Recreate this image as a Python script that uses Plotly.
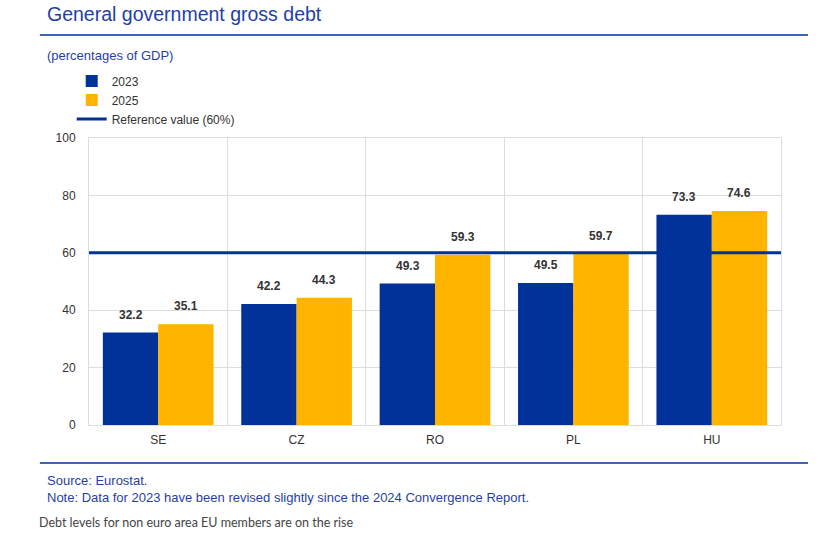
import plotly.graph_objects as go

# data
countries = ["SE", "CZ", "RO", "PL", "HU"]
debt_2023 = [32.2, 42.2, 49.3, 49.5, 73.3]
debt_2025 = [35.1, 44.3, 59.3, 59.7, 74.6]
reference_value = 60
y_ticks = [0, 20, 40, 60, 80, 100]

ECB_BLUE = "#003299"
ECB_YELLOW = "#FFB400"
TEXT_BLUE = "#1F3FA6"
FONT = "Liberation Sans"

fig = go.Figure()

fig.add_trace(go.Bar(x=countries, y=debt_2023, name="2023",
                     marker=dict(color=ECB_BLUE, line=dict(width=0))))
fig.add_trace(go.Bar(x=countries, y=debt_2025, name="2025",
                     marker=dict(color=ECB_YELLOW, line=dict(width=0))))

# value labels above each bar (left bar = 2023, right bar = 2025)
for series, shift in [(debt_2023, -27.5), (debt_2025, 27.5)]:
    for c, v in zip(countries, series):
        fig.add_annotation(x=c, y=v, text="%.1f" % v, showarrow=False,
                           xshift=shift, yshift=9, yanchor="bottom",
                           font=dict(family=FONT, size=12, color="#333333", weight="bold"))

# reference value line across the whole plot
fig.add_shape(type="line", xref="paper", x0=0, x1=1, y0=reference_value, y1=reference_value,
              line=dict(color=ECB_BLUE, width=3), layer="above",
              showlegend=True, name="Reference value (60%)")

# header / footer rules
fig.add_shape(type="line", xref="paper", yref="paper", x0=-0.071, x1=1.039, y0=1.359, y1=1.359,
              line=dict(color=ECB_BLUE, width=1.5))
fig.add_shape(type="line", xref="paper", yref="paper", x0=-0.071, x1=1.039, y0=-0.132, y1=-0.132,
              line=dict(color=ECB_BLUE, width=1.5))

def note(text, x, y, size, color, family=FONT):
    fig.add_annotation(text=text, xref="paper", yref="paper", x=x, y=y,
                       xanchor="left", yanchor="middle", showarrow=False,
                       font=dict(family=family, size=size, color=color))

note("General government gross debt", -0.063, 1.432, 19.5, TEXT_BLUE)
note("(percentages of GDP)", -0.063, 1.289, 13, TEXT_BLUE)
note("Source: Eurostat.", -0.063, -0.195, 13, TEXT_BLUE)
note("Note: Data for 2023 have been revised slightly since the 2024 Convergence Report.",
     -0.063, -0.251, 13, TEXT_BLUE)
note("Debt levels for non euro area EU members are on the rise", -0.075, -0.341, 12.5, "#444444", "Lato")

fig.update_layout(
    width=838, height=550,
    margin=dict(l=89, r=57, t=138, b=125),
    paper_bgcolor="white", plot_bgcolor="white",
    barmode="group", bargap=0.2, bargroupgap=0,
    font=dict(family=FONT, size=12, color="#333333"),
    legend=dict(x=-0.025, y=1.249, xanchor="left", yanchor="top",
                font=dict(family=FONT, size=12, color="#333333"),
                itemwidth=30, tracegroupgap=0, bgcolor="rgba(0,0,0,0)"),
    xaxis=dict(type="category", tickson="boundaries", showgrid=True, gridcolor="#DDDDDD",
               showline=True, linecolor="#DDDDDD", mirror=True, ticks="",
               ticklabelstandoff=4, tickfont=dict(size=12, color="#333333")),
    yaxis=dict(range=[0, 100], tickvals=y_ticks, showgrid=True, gridcolor="#DDDDDD",
               showline=True, linecolor="#DDDDDD", mirror=True, zeroline=False,
               ticks="", ticklabelstandoff=10, tickfont=dict(size=12, color="#333333")),
)

# drop the browser's default page margin so the figure sits at the window corner
fig.write_html("out.html", config={"displayModeBar": False},
               post_script="document.body.style.margin='0';")
